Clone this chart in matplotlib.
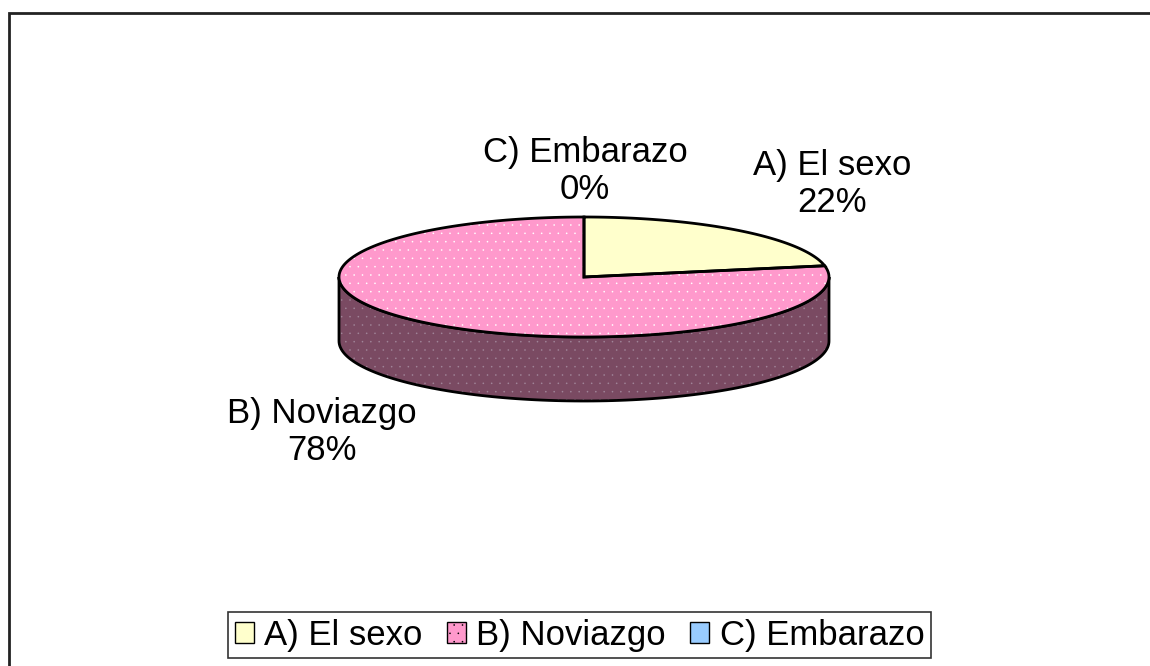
import numpy as np
import matplotlib.pyplot as plt
from matplotlib.patches import Polygon, Rectangle, Patch

plt.rcParams['font.family'] = ['Liberation Sans', 'DejaVu Sans']
plt.rcParams['hatch.linewidth'] = 0.0

# datos
categorias = ['A) El sexo', 'B) Noviazgo', 'C) Embarazo']
valores = [22, 78, 0]
colores = ['#FFFFCC', '#FF99CC', '#99CCFF']
lados = ['#8A8A66', '#7A4A62', '#4D6680']
punteado = [False, True, False]

# posiciones de las etiquetas (pixeles)
pos_etiquetas = [(832, 184), (322, 432), (585, 171)]

# geometria del pastel 3D (pixeles)
CX, CY = 584, 277
RX, RY = 245, 60
PROF = 64


def punto(t, dy=0):
    return (CX + RX * np.cos(np.radians(t)), CY - RY * np.sin(np.radians(t)) + dy)


fig = plt.figure(figsize=(11.5, 6.66), dpi=100)
ax = fig.add_axes([0, 0, 1, 1])
ax.set_xlim(0, 1150)
ax.set_ylim(666, 0)
ax.axis('off')

total = sum(valores)
angulos = []
inicio = 90.0
for v in valores:
    barrido = 360.0 * v / total
    angulos.append((inicio - barrido, inicio))
    inicio -= barrido

# lados visibles (mitad frontal, 180..360)
for i, (a0, a1) in enumerate(angulos):
    if a1 - a0 <= 0:
        continue
    for desp in (-360, 0, 360):
        lo = max(a0 + desp, 180)
        hi = min(a1 + desp, 360)
        if hi <= lo:
            continue
        ts = np.linspace(lo, hi, 120)
        arriba = [punto(t) for t in ts]
        abajo = [punto(t, PROF) for t in ts[::-1]]
        pts = arriba + abajo
        ax.add_patch(Polygon(pts, closed=True, facecolor=lados[i],
                             edgecolor='none', zorder=2))
        if punteado[i]:
            ax.add_patch(Polygon(pts, closed=True, facecolor='none',
                                 edgecolor='#A08498', hatch='..', lw=0, zorder=2.1))
        ax.add_patch(Polygon(pts, closed=True, facecolor='none',
                             edgecolor='black', lw=2, zorder=2.2))

# cara superior
for i, (a0, a1) in enumerate(angulos):
    if a1 - a0 <= 0:
        continue
    ts = np.linspace(a1, a0, 200)
    pts = [(CX, CY)] + [punto(t) for t in ts]
    ax.add_patch(Polygon(pts, closed=True, facecolor=colores[i],
                         edgecolor='none', zorder=3))
    if punteado[i]:
        ax.add_patch(Polygon(pts, closed=True, facecolor='none',
                             edgecolor='white', hatch='..', lw=0, zorder=3.1))
    ax.add_patch(Polygon(pts, closed=True, facecolor='none',
                         edgecolor='black', lw=2, zorder=3.2))

# etiquetas
for cat, v, (x, y) in zip(categorias, valores, pos_etiquetas):
    ax.text(x, y, f'{cat}\n{v / total * 100:.0f}%', ha='center', va='center',
            multialignment='center', fontsize=25, linespacing=1.12, zorder=5)

# leyenda
manejadores = [Patch(facecolor=c, edgecolor='black', lw=1,
                     hatch='..' if p else None) for c, p in zip(colores, punteado)]
leg = fig.legend(manejadores, categorias, loc='center', ncol=3,
                 bbox_to_anchor=(0.504, 0.0465), fontsize=25, frameon=True,
                 fancybox=False, handlelength=0.55, handleheight=0.55,
                 handletextpad=0.3, columnspacing=0.7, borderpad=0.2,
                 borderaxespad=0)
leg.get_frame().set_edgecolor('black')
leg.get_frame().set_linewidth(1.2)

# marco del grafico
fig.add_artist(Rectangle((9 / 1150, -0.1), 1.2, (666 - 13) / 666 + 0.1,
                         transform=fig.transFigure, facecolor='none',
                         edgecolor='#222222', lw=2, clip_on=False))

fig.savefig('out.png', dpi=100)
